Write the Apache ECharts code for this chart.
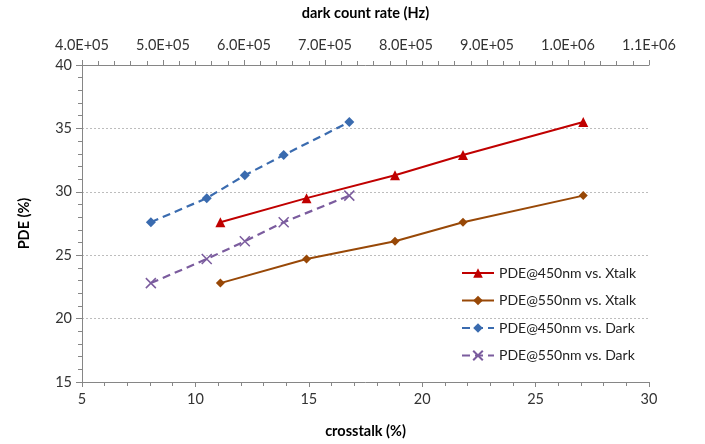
<!DOCTYPE html>
<html><head><meta charset="utf-8">
<script src="https://cdn.jsdelivr.net/npm/echarts@6/dist/echarts.min.js"></script>
<style>html,body{margin:0;padding:0;background:#fff}#c{width:705px;height:444px}</style>
</head><body><div id="c"></div>
<script>
var xtalk = [11.1, 14.9, 18.8, 21.8, 27.1];
var darkRate = [4.85e5, 5.54e5, 6.01e5, 6.49e5, 7.30e5];
var pde450 = [27.6, 29.5, 31.3, 32.9, 35.5];
var pde550 = [22.8, 24.7, 26.1, 27.6, 29.7];
var seriesNames = ['PDE@450nm vs. Xtalk', 'PDE@550nm vs. Xtalk', 'PDE@450nm vs. Dark', 'PDE@550nm vs. Dark'];

function pairs(xs, ys) { return xs.map(function (x, i) { return [x, ys[i]]; }); }
function sci(v) {
  var e = Math.floor(Math.log10(v) + 1e-9);
  var m = v / Math.pow(10, e);
  return m.toFixed(1) + 'E+' + (e < 10 ? '0' + e : e);
}
var font = 'Lato, "Open Sans", sans-serif';
var axisLine = { lineStyle: { color: '#868686', width: 1 } };
var label = { color: '#333', fontSize: 14.5, fontFamily: font };
var nameStyle = { color: '#000', fontSize: 14.5, fontWeight: 'bold', fontFamily: font };

var chart = echarts.init(document.getElementById('c'));
chart.setOption({
  animation: false,
  grid: { left: 82, right: 56, top: 65, bottom: 62 },
  legend: {
    orient: 'vertical', left: 456, top: 261, itemGap: 13.5, itemWidth: 32, itemHeight: 12,
    textStyle: { color: '#222', fontSize: 14, fontFamily: font },
    data: seriesNames
  },
  xAxis: [
    { type: 'value', position: 'bottom', min: 5, max: 30, interval: 5,
      name: 'crosstalk (%)', nameLocation: 'middle', nameGap: 42, nameTextStyle: nameStyle,
      axisLine: axisLine, axisTick: { show: true, length: 5, lineStyle: { color: '#868686' } },
      minorTick: { show: true, splitNumber: 5, length: 4, lineStyle: { color: '#868686' } },
      axisLabel: Object.assign({ margin: 10 }, label), splitLine: { show: false } },
    { type: 'value', position: 'top', min: 4e5, max: 1.1e6, interval: 1e5,
      name: 'dark count rate (Hz)', nameLocation: 'middle', nameGap: 44, nameTextStyle: nameStyle,
      axisLine: axisLine, axisTick: { show: true, length: 5, lineStyle: { color: '#868686' } },
      minorTick: { show: true, splitNumber: 5, length: 4, lineStyle: { color: '#868686' } },
      axisLabel: Object.assign({ margin: 12, formatter: sci }, label), splitLine: { show: false } }
  ],
  yAxis: {
    type: 'value', min: 15, max: 40, interval: 5,
    name: 'PDE (%)', nameLocation: 'middle', nameGap: 50, nameTextStyle: nameStyle,
    axisLine: axisLine, axisTick: { show: true, length: 6, lineStyle: { color: '#868686' } },
    minorTick: { show: true, splitNumber: 5, length: 4, lineStyle: { color: '#868686' } },
    axisLabel: Object.assign({ margin: 10 }, label),
    splitLine: { show: true, lineStyle: { color: '#bdbdbd', type: [2, 2], width: 1 } }
  },
  series: [
    { name: seriesNames[0], type: 'line', xAxisIndex: 0, data: pairs(xtalk, pde450),
      symbol: 'triangle', symbolSize: 10, color: '#C00000',
      lineStyle: { width: 2, color: '#C00000' }, itemStyle: { color: '#C00000' } },
    { name: seriesNames[1], type: 'line', xAxisIndex: 0, data: pairs(xtalk, pde550),
      symbol: 'diamond', symbolSize: 9, color: '#984807',
      lineStyle: { width: 2, color: '#984807' }, itemStyle: { color: '#984807' } },
    { name: seriesNames[2], type: 'line', xAxisIndex: 1, data: pairs(darkRate, pde450),
      symbol: 'diamond', symbolSize: 10, color: '#3A6BAF',
      lineStyle: { width: 2.2, color: '#3A6BAF', type: [8, 5] }, itemStyle: { color: '#3A6BAF' } },
    { name: seriesNames[3], type: 'line', xAxisIndex: 1, data: pairs(darkRate, pde550),
      symbol: 'path://M0,0L10,10M10,0L0,10', symbolSize: 10, color: '#7B5C9E',
      lineStyle: { width: 2.2, color: '#7B5C9E', type: [8, 5] },
      itemStyle: { color: 'rgba(0,0,0,0)', borderColor: '#7B5C9E', borderWidth: 1.5 } }
  ]
});
</script></body></html>
